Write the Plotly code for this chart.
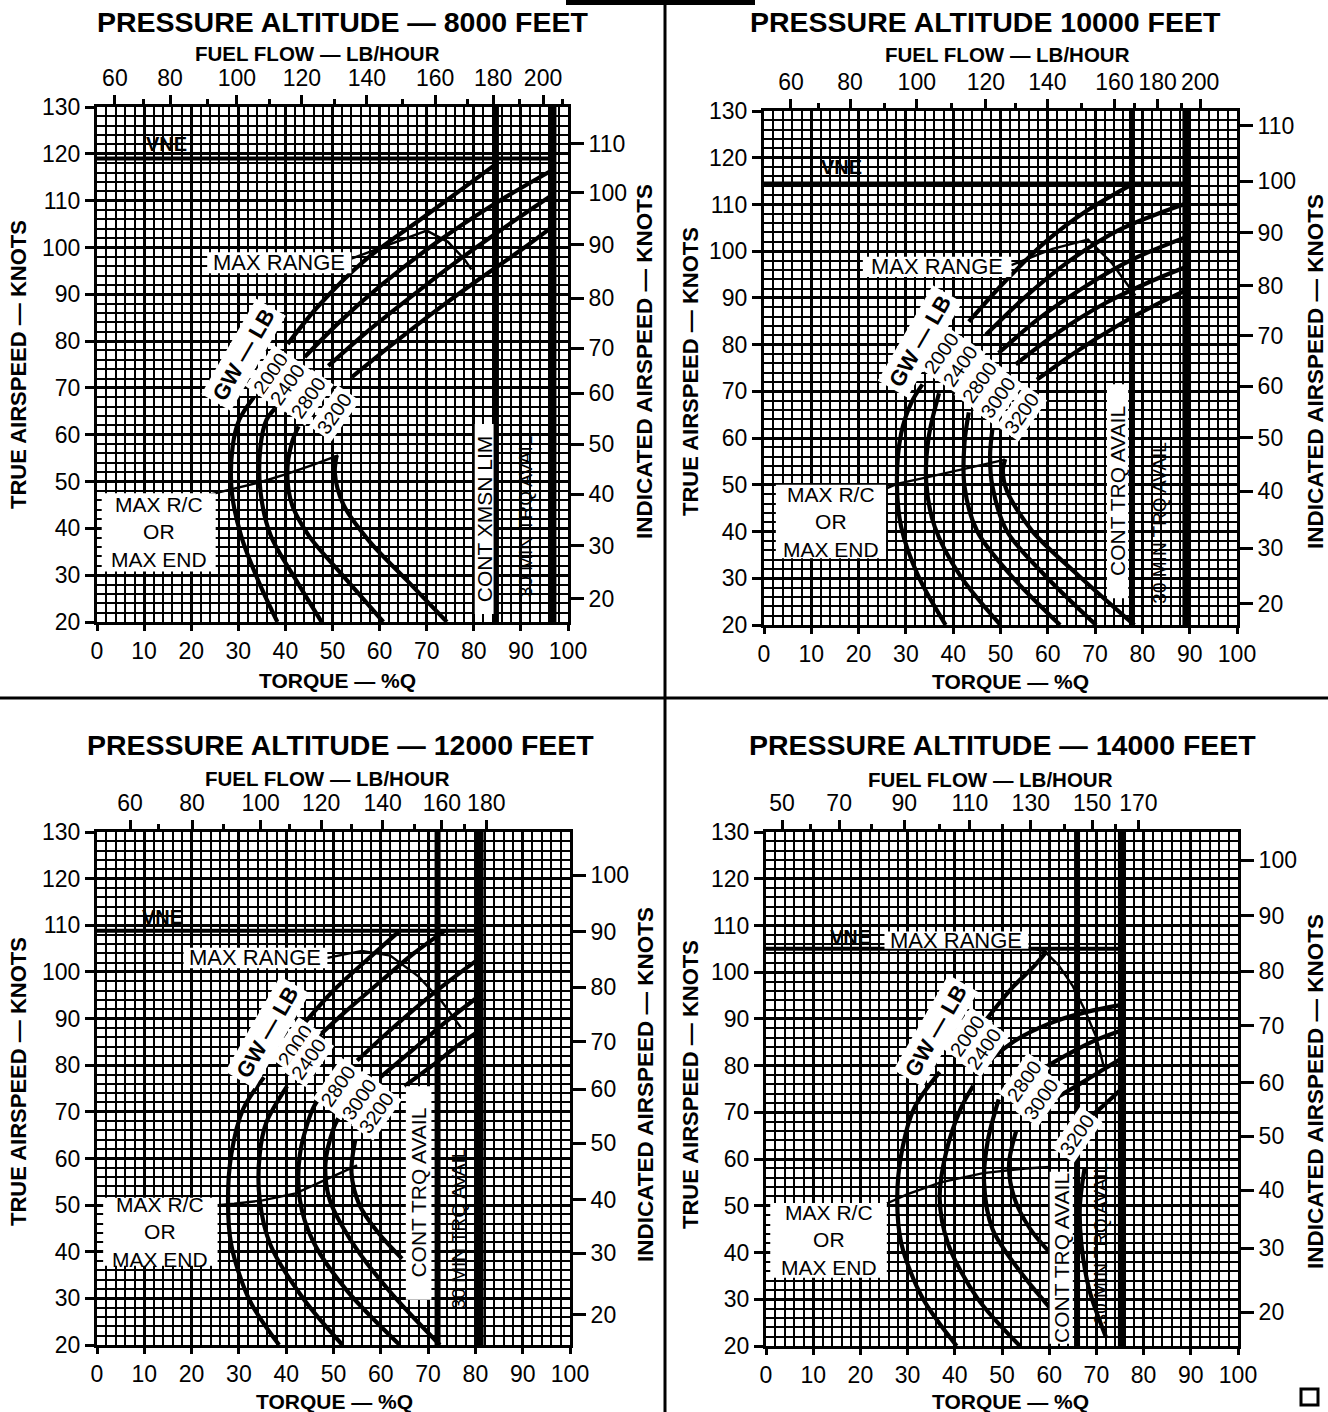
import plotly.graph_objects as go

W, H = 1328, 1412

# ---------------- data ----------------
# Panel A : 8000 ft
A_TITLE = "PRESSURE ALTITUDE — 8000 FEET"
A_FUEL = [60, 80, 100, 120, 140, 160, 180, 200]
A_FUEL_TQ = [3.8, 15.5, 29.7, 43.5, 57.3, 71.8, 84.1, 94.7]
A_FUEL_MINOR_TQ = [9.8, 23.4, 36.7, 50.5, 64.8, 78.6, 89.8, 98.9]
A_IAS = [110, 100, 90, 80, 70, 60, 50, 40, 30, 20]
A_IAS_TAS = [122.2, 111.7, 100.6, 89.2, 78.5, 68.9, 58.0, 47.3, 36.3, 25.0]
A_VNE = 119.0
A_CONT_TQ = 84.7
A_30MIN_TQ = 96.8
A_CONT_TEXT = "CONT XMSN LIM"
A_GW = ["2000", "2400", "2800", "3200"]
A_LOWER = [
    [(38.3, 20), (34.2, 28.9), (30.6, 38.4), (28.6, 47.9), (28.8, 57.5), (30.2, 63.2), (33.3, 68)],
    [(47.7, 20), (42.3, 28.9), (36.9, 38.4), (34.7, 47.9), (34.7, 57.5), (36.0, 63.2), (37.8, 65.6)],
    [(60.8, 20), (52.3, 29.8), (45.0, 38.4), (41.4, 45.1), (40.4, 51.8), (41.4, 58.4), (42.8, 61.8)],
    [(74.3, 20), (65.8, 28.9), (57.7, 37.4), (52.3, 45.1), (50.5, 51.8), (50.9, 55.6)],
]
A_UPPER = [
    [(40.5, 79.4), (47.0, 87.5), (56.8, 97.2), (69.4, 106.5), (84.7, 117.8)],
    [(44.1, 76.6), (51.4, 84.0), (60.4, 92.0), (72.0, 101.0), (84.7, 109.5), (96.8, 116.6)],
    [(49.1, 74.7), (57.7, 82.3), (66.7, 89.5), (75.7, 96.5), (84.7, 103.0), (96.8, 111.3)],
    [(54.1, 72.3), (63.1, 79.6), (72.1, 86.6), (81.1, 93.2), (90.1, 99.5), (96.8, 104.5)],
]
A_MAX_RANGE = [(54.0, 97.6), (62.0, 100.6), (70.0, 103.6), (74.5, 101.2), (78.0, 97.5), (79.5, 95.3)]
A_MAX_RC = [(23.9, 47.2), (28.4, 48.3), (34.5, 49.8), (40.5, 51.7), (46.0, 53.6), (51.2, 55.6)]

# Panel B : 10000 ft
B_TITLE = "PRESSURE ALTITUDE 10000 FEET"
B_FUEL = [60, 80, 100, 120, 140, 160, 180, 200]
B_FUEL_TQ = [5.7, 18.2, 32.3, 46.9, 59.9, 74.1, 83.2, 92.2]
B_FUEL_MINOR_TQ = [11.5, 25.4, 39.7, 53.2, 67.1, 78.3, 88.2]
B_IAS = [110, 100, 90, 80, 70, 60, 50, 40, 30, 20]
B_IAS_TAS = [126.9, 115.0, 104.0, 92.6, 81.9, 71.1, 60.1, 48.6, 36.4, 24.6]
B_VNE = 114.5
B_CONT_TQ = 77.8
B_30MIN_TQ = 89.2
B_CONT_TEXT = "CONT TRQ AVAIL"
B_GW = ["2000", "2400", "2800", "3000", "3200"]
B_LOWER = [
    [(38.4, 20), (32.6, 30.5), (29.0, 41), (28.1, 50.5), (29.0, 61), (31.2, 67.7), (33.5, 71.5)],
    [(50.0, 20), (41.5, 30.5), (36.1, 41), (34.3, 50.5), (34.8, 60.1), (37.0, 69.6)],
    [(62.6, 20), (52.3, 30.5), (45.1, 40), (42.4, 49.6), (42.4, 59.1), (43.3, 65.5)],
    [(70.2, 20), (59.5, 30.5), (51.4, 40), (48.3, 49.6), (47.8, 56.3), (48.3, 62)],
    [(78.3, 20), (66.6, 30.5), (56.8, 40), (51.4, 48.6), (50.5, 53), (51.0, 55.5)],
]
B_UPPER = [
    [(43.3, 84.9), (50.0, 92.5), (59.5, 102.0), (68.0, 108.5), (77.8, 114.3)],
    [(46.9, 82.1), (55.0, 90.0), (64.0, 97.5), (75.0, 104.5), (89.2, 110.2)],
    [(49.6, 78.2), (58.0, 85.5), (68.0, 92.5), (78.0, 98.3), (89.2, 103.0)],
    [(53.2, 75.8), (62.0, 82.5), (72.0, 88.8), (81.0, 93.2), (89.2, 96.6)],
    [(57.7, 72.5), (66.0, 78.5), (75.0, 84.2), (83.0, 88.6), (89.2, 91.6)],
]
B_MAX_RANGE = [(52.3, 97.0), (61.0, 100.5), (68.5, 102.5), (73.5, 97.5), (78.5, 90.5)]
B_MAX_RC = [(25.8, 49.2), (28.1, 50.2), (34.4, 51.6), (42.4, 53.4), (48.0, 54.6), (51.0, 55.4)]

# Panel C : 12000 ft
C_TITLE = "PRESSURE ALTITUDE — 12000 FEET"
C_FUEL = [60, 80, 100, 120, 140, 160, 180]
C_FUEL_TQ = [7.0, 20.1, 34.6, 47.4, 60.4, 72.9, 82.3]
C_FUEL_MINOR_TQ = [13.0, 26.8, 40.7, 53.7, 67.1, 77.8]
C_IAS = [100, 90, 80, 70, 60, 50, 40, 30, 20]
C_IAS_TAS = [120.7, 108.6, 96.7, 85.0, 74.8, 63.3, 51.1, 39.7, 26.5]
C_VNE = 108.8
C_CONT_TQ = 72.0
C_30MIN_TQ = 81.0
C_CONT_TEXT = "CONT TRQ AVAIL"
C_GW = ["2000", "2400", "2800", "3000", "3200"]
C_LOWER = [
    [(38.5, 20), (32.2, 29.7), (28.4, 41.4), (27.7, 51.1), (28.4, 60.9), (30.9, 70.6), (35.3, 77.4)],
    [(51.9, 20), (43.8, 29.7), (36.7, 41.4), (34.4, 51.1), (34.4, 60.9), (35.8, 67.7), (40.2, 75.5)],
    [(64.0, 20), (52.8, 31.7), (45.6, 42.4), (42.9, 51.1), (42.9, 60.9), (45.6, 70.6), (47.4, 73.5)],
    [(72.5, 20), (61.7, 31.7), (53.7, 42.4), (49.2, 51.1), (48.3, 58.9), (50.1, 66.7), (51.0, 68.6)],
    [(64.5, 38.5), (59.5, 44.0), (55.5, 50.0), (53.8, 57.0), (54.6, 64.0)],
]
C_UPPER = [
    [(43.0, 88.0), (50.0, 96.0), (57.0, 102.5), (64.0, 108.8)],
    [(44.5, 84.0), (52.0, 91.0), (60.0, 98.0), (67.0, 104.0), (73.5, 108.8)],
    [(55.0, 81.0), (62.0, 87.5), (70.0, 94.5), (77.0, 100.0), (81.0, 103.0)],
    [(60.0, 77.5), (67.0, 83.5), (74.0, 89.5), (81.0, 95.0)],
    [(65.0, 75.5), (71.0, 80.0), (76.0, 84.0), (81.0, 87.5)],
]
C_MAX_RANGE = [(48.7, 103.0), (56.0, 104.5), (62.0, 103.5), (68.0, 99.0), (73.0, 93.5), (77.0, 88.0)]
C_MAX_RC = [(25.5, 50.0), (29.0, 50.3), (35.0, 51.0), (42.0, 52.5), (48.5, 55.5), (55.0, 58.5)]

# Panel D : 14000 ft
D_TITLE = "PRESSURE ALTITUDE — 14000 FEET"
D_FUEL = [50, 70, 90, 110, 130, 150, 170]
D_FUEL_TQ = [3.4, 15.5, 29.3, 43.2, 56.1, 69.1, 78.9]
D_FUEL_MINOR_TQ = [9.4, 22.4, 36.8, 50.2, 63.2, 74.0]
D_IAS = [100, 90, 80, 70, 60, 50, 40, 30, 20]
D_IAS_TAS = [124.0, 112.1, 100.2, 88.5, 76.4, 64.9, 53.3, 40.9, 27.2]
D_VNE = 105.0
D_CONT_TQ = 65.9
D_30MIN_TQ = 75.3
D_CONT_TEXT = "CONT TRQ AVAIL"
D_GW = ["2000", "2400", "2800", "3000", "3200"]
D_LOWER = [
    [(40.4, 20), (33.2, 30.2), (28.7, 41.8), (27.8, 51.5), (28.7, 61.2), (31.4, 70.9), (36.8, 78.6)],
    [(53.8, 20), (44.8, 30.2), (38.6, 41.8), (36.8, 51.5), (38.1, 61.2), (41.3, 70.9), (43.9, 75.7)],
    [(62.0, 26.0), (53.8, 36.0), (48.0, 45.0), (46.2, 55.0), (47.0, 64.0), (49.3, 72.8)],
    [(62.0, 38.0), (56.0, 45.0), (52.5, 52.0), (51.5, 59.0), (53.0, 66.0)],
    [(72.0, 22.0), (68.5, 32.0), (66.8, 42.0), (66.5, 50.0), (67.5, 58.0)],
]
D_UPPER = [
    [(41.5, 83.0), (46.0, 89.0), (52.0, 96.5), (57.0, 101.5), (59.5, 104.5)],
    [(46.0, 80.0), (53.0, 85.5), (60.0, 89.0), (68.0, 91.5), (75.3, 93.0)],
    [(53.0, 75.0), (59.0, 79.5), (65.0, 83.0), (70.0, 85.5), (75.3, 87.5)],
    [(57.0, 70.5), (63.0, 74.0), (68.0, 77.0), (72.0, 79.5), (75.3, 81.5)],
    [(68.0, 68.5), (71.0, 71.0), (75.3, 75.0)],
]
D_MAX_RANGE = [(55.6, 105.2), (59.0, 104.5), (62.0, 101.5), (65.0, 97.0), (67.5, 92.0), (70.0, 86.0), (71.5, 80.0)]
D_MAX_RC = [(25.6, 50.5), (30.0, 52.5), (37.0, 55.0), (46.0, 57.0), (55.0, 58.0), (60.1, 58.3)]

PANELS = [
    dict(title=A_TITLE, fuel=A_FUEL, fuel_tq=A_FUEL_TQ, fuel_minor=A_FUEL_MINOR_TQ, ias=A_IAS, ias_tas=A_IAS_TAS,
         vne=A_VNE, cont=A_CONT_TQ, min30=A_30MIN_TQ, cont_text=A_CONT_TEXT, gw=A_GW,
         lower=A_LOWER, upper=A_UPPER, max_range=A_MAX_RANGE, max_rc=A_MAX_RC),
    dict(title=B_TITLE, fuel=B_FUEL, fuel_tq=B_FUEL_TQ, fuel_minor=B_FUEL_MINOR_TQ, ias=B_IAS, ias_tas=B_IAS_TAS,
         vne=B_VNE, cont=B_CONT_TQ, min30=B_30MIN_TQ, cont_text=B_CONT_TEXT, gw=B_GW,
         lower=B_LOWER, upper=B_UPPER, max_range=B_MAX_RANGE, max_rc=B_MAX_RC),
    dict(title=C_TITLE, fuel=C_FUEL, fuel_tq=C_FUEL_TQ, fuel_minor=C_FUEL_MINOR_TQ, ias=C_IAS, ias_tas=C_IAS_TAS,
         vne=C_VNE, cont=C_CONT_TQ, min30=C_30MIN_TQ, cont_text=C_CONT_TEXT, gw=C_GW,
         lower=C_LOWER, upper=C_UPPER, max_range=C_MAX_RANGE, max_rc=C_MAX_RC),
    dict(title=D_TITLE, fuel=D_FUEL, fuel_tq=D_FUEL_TQ, fuel_minor=D_FUEL_MINOR_TQ, ias=D_IAS, ias_tas=D_IAS_TAS,
         vne=D_VNE, cont=D_CONT_TQ, min30=D_30MIN_TQ, cont_text=D_CONT_TEXT, gw=D_GW,
         lower=D_LOWER, upper=D_UPPER, max_range=D_MAX_RANGE, max_rc=D_MAX_RC),
]

# ---------------- layout (pixels / data-positions of labels) ----------------
PANEL_PX = [(97, 568, 107, 622), (764, 1237, 111, 625), (97, 570, 832, 1345), (766, 1238, 832, 1346)]
TITLE_PX = [(343, 22), (985, 22), (340, 745), (1003, 745)]
FUEL_TITLE_PX = [(317, 54), (1007, 55), (327, 778), (990, 779)]
TQ_TITLE_PX = [(337, 680), (1010, 682), (335, 1401), (1010, 1401)]
TAS_TITLE_PX = [(18, 365), (690, 372), (18, 1082), (690, 1085)]
IAS_TITLE_PX = [(645, 362), (1315, 372), (645, 1085), (1315, 1092)]

LABELS = [
    dict(vne=(14.8, 122.0), mr=(23.4, 54.0, 94.5, 99.0), mrc=(1.0, 25.2, 30.8, 47.5), cbox=(80.2, 84.2, 21.7, 62.3),
         min30=(91.0, 42.5), gwlb=(31.0, 77.0),
         gwnum=[(36.9, 73.2), (40.5, 70.8), (45.0, 68.0), (50.5, 64.6)]),
    dict(vne=(16.4, 118.0), mr=(20.9, 52.3, 94.5, 98.8), mrc=(2.5, 25.8, 34.3, 50.0), cbox=(72.5, 77.0, 25.7, 71.5),
         min30=(83.6, 42.0), gwlb=(33.0, 80.6),
         gwnum=[(37.5, 78.2), (41.5, 75.4), (45.6, 72.0), (49.6, 68.7), (54.5, 65.4)]),
    dict(vne=(13.9, 111.8), mr=(18.3, 48.7, 100.8, 105.2), mrc=(1.3, 25.5, 37.0, 51.6), cbox=(65.3, 70.7, 29.7, 75.5),
         min30=(76.5, 45.0), gwlb=(36.0, 87.0),
         gwnum=[(42.0, 84.3), (44.7, 81.4), (51.0, 75.5), (55.5, 72.7), (59.0, 69.8)]),
    dict(vne=(18.0, 107.5), mr=(25.1, 55.6, 105.0, 108.7), mrc=(0.9, 25.6, 34.6, 50.6), cbox=(60.1, 65.0, 20.5, 57.3),
         min30=(70.8, 42.0), gwlb=(36.0, 87.5),
         gwnum=[(42.6, 86.4), (46.2, 83.5), (54.7, 76.7), (58.3, 72.8), (65.9, 65.1)]),
]

FONT = "Liberation Sans, Arial, sans-serif"
TICKFONT = dict(family=FONT, size=23, color="black")


def P(px, py):
    return px / W, 1 - py / H


def key(n, kind):
    return f"{kind}axis" + ("" if n == 1 else str(n))


def ref(n, kind):
    return kind + ("" if n == 1 else str(n))


fig = go.Figure()
layout = {}
shapes = []
annotations = []


def note(x, y, text, xref, yref, size, bold=False, angle=0, bg=None, pad=1):
    a = dict(x=x, y=y, xref=xref, yref=yref, text=text, showarrow=False, textangle=angle,
             xanchor="center", yanchor="middle",
             font=dict(family=FONT, size=size, color="black", weight="bold" if bold else "normal"))
    if bg:
        a.update(bgcolor=bg, borderpad=pad)
    annotations.append(a)


def line_trace(pts, xr, yr, width, spline=True):
    fig.add_trace(go.Scatter(
        x=[p[0] for p in pts], y=[p[1] for p in pts], xaxis=xr, yaxis=yr,
        mode="lines", line=dict(color="black", width=width, shape="spline" if spline else "linear", smoothing=0.9),
        hoverinfo="skip", showlegend=False, cliponaxis=True,
    ))


for i, p in enumerate(PANELS, start=1):
    x0, x1, y0, y1 = PANEL_PX[i - 1]
    xd = [x0 / W, x1 / W]
    yd = [1 - y1 / H, 1 - y0 / H]
    xr, yr = ref(i, "x"), ref(i, "y")
    xt, yt = ref(i + 4, "x"), ref(i + 4, "y")

    common = dict(showgrid=True, gridcolor="black", gridwidth=3.4,
                  ticks="outside", tickwidth=2.5, tickcolor="black",
                  showline=True, linecolor="black", linewidth=3, zeroline=False,
                  tickfont=TICKFONT, fixedrange=True, automargin=False)
    layout[key(i, "x")] = dict(domain=xd, anchor=yr, range=[0, 100], tickmode="linear", tick0=0, dtick=10,
                               ticklen=6,
                               minor=dict(dtick=2, showgrid=True, gridcolor="black", gridwidth=2.4), **common)
    layout[key(i, "y")] = dict(domain=yd, anchor=xr, range=[20, 130], tickmode="linear", tick0=20, dtick=10,
                               ticklen=9,
                               minor=dict(dtick=2, showgrid=True, gridcolor="black", gridwidth=2.4), **common)
    layout[key(i + 4, "x")] = dict(
        overlaying=xr, side="top", anchor=yr, range=[0, 100],
        tickmode="array", tickvals=p["fuel_tq"], ticktext=[str(v) for v in p["fuel"]],
        ticks="outside", ticklen=9, tickwidth=2.5, tickcolor="black",
        minor=dict(tickmode="array", tickvals=p["fuel_minor"], ticks="outside", ticklen=5,
                   tickwidth=2.5, tickcolor="black", showgrid=False),
        showgrid=False, showline=True, linecolor="black", linewidth=3, zeroline=False,
        tickfont=TICKFONT, fixedrange=True, automargin=False,
    )
    layout[key(i + 4, "y")] = dict(
        overlaying=yr, side="right", anchor=xr, range=[20, 130],
        tickmode="array", tickvals=p["ias_tas"], ticktext=[str(v) for v in p["ias"]],
        ticks="outside", ticklen=13, tickwidth=2.5, tickcolor="black",
        showgrid=False, showline=True, linecolor="black", linewidth=3, zeroline=False,
        tickfont=TICKFONT, fixedrange=True, automargin=False,
    )
    # keep the overlay axes alive
    fig.add_trace(go.Scatter(x=[0, 100], y=[20, 130], xaxis=xt, yaxis=yt, mode="markers",
                             marker=dict(opacity=0), hoverinfo="skip", showlegend=False))

    # limit lines
    line_trace([(0, p["vne"]), (p["min30"], p["vne"])], xr, yr, 4, spline=False)
    line_trace([(p["cont"], 20), (p["cont"], 130)], xr, yr, 6, spline=False)
    line_trace([(p["min30"], 20), (p["min30"], 130)], xr, yr, 7, spline=False)

    # gross weight curves
    for seg in p["lower"] + p["upper"]:
        line_trace(seg, xr, yr, 4.2)
    line_trace(p["max_range"], xr, yr, 2.4, spline=False)
    line_trace(p["max_rc"], xr, yr, 2.4, spline=False)

    lab = LABELS[i - 1]
    for box in (lab["mr"], lab["mrc"], lab["cbox"]):
        shapes.append(dict(type="rect", xref=xr, yref=yr, x0=box[0], x1=box[1], y0=box[2], y1=box[3],
                           fillcolor="white", line=dict(width=0), layer="above"))
    mr, mrc, cb = lab["mr"], lab["mrc"], lab["cbox"]
    note((mr[0] + mr[1]) / 2, (mr[2] + mr[3]) / 2, "MAX RANGE", xr, yr, 22)
    note((mrc[0] + mrc[1]) / 2, (mrc[2] + mrc[3]) / 2, "MAX R/C<br>OR<br>MAX END", xr, yr, 21)
    note((cb[0] + cb[1]) / 2, (cb[2] + cb[3]) / 2, p["cont_text"], xr, yr, 21, angle=-90)
    note(lab["min30"][0], lab["min30"][1], "30 MIN TRQ AVAIL", xr, yr, 19, angle=-90)
    note(lab["vne"][0], lab["vne"][1], "VNE", xr, yr, 20, bold=True)
    note(lab["gwlb"][0], lab["gwlb"][1], "GW — LB", xr, yr, 22, bold=True, angle=-60, bg="white", pad=4)
    for (gx, gy), g in zip(lab["gwnum"], p["gw"]):
        note(gx, gy, g, xr, yr, 20, angle=-55, bg="white", pad=2)

    # titles
    note(*P(*TITLE_PX[i - 1]), p["title"], "paper", "paper", 28.5, bold=True)
    note(*P(*FUEL_TITLE_PX[i - 1]), "FUEL FLOW — LB/HOUR", "paper", "paper", 20.5, bold=True)
    note(*P(*TQ_TITLE_PX[i - 1]), "TORQUE — %Q", "paper", "paper", 21, bold=True)
    note(*P(*TAS_TITLE_PX[i - 1]), "TRUE AIRSPEED — KNOTS", "paper", "paper", 22, bold=True, angle=-90)
    note(*P(*IAS_TITLE_PX[i - 1]), "INDICATED AIRSPEED — KNOTS", "paper", "paper", 22.5, bold=True, angle=-90)

# page furniture: separators, top tab, end mark
shapes.append(dict(type="line", xref="paper", yref="paper", x0=0, x1=1, y0=1 - 698 / H, y1=1 - 698 / H,
                   line=dict(color="black", width=3)))
shapes.append(dict(type="line", xref="paper", yref="paper", x0=665 / W, x1=665 / W, y0=0, y1=1,
                   line=dict(color="black", width=3)))
shapes.append(dict(type="rect", xref="paper", yref="paper", x0=566 / W, x1=755 / W, y0=1 - 5 / H, y1=1,
                   fillcolor="black", line=dict(width=0)))
shapes.append(dict(type="rect", xref="paper", yref="paper", x0=1301 / W, x1=1318 / W, y0=1 - 1405 / H,
                   y1=1 - 1389 / H, line=dict(color="black", width=3)))

fig.update_layout(
    width=W, height=H, margin=dict(l=0, r=0, t=0, b=0, autoexpand=False),
    paper_bgcolor="white", plot_bgcolor="white",
    showlegend=False, shapes=shapes, annotations=annotations,
    font=dict(family=FONT, color="black"),
    **layout,
)

# the page's default body margin would shift the figure by 8px
fig.write_html("out.html", config={"displayModeBar": False},
               post_script="document.body.style.margin='0';")
